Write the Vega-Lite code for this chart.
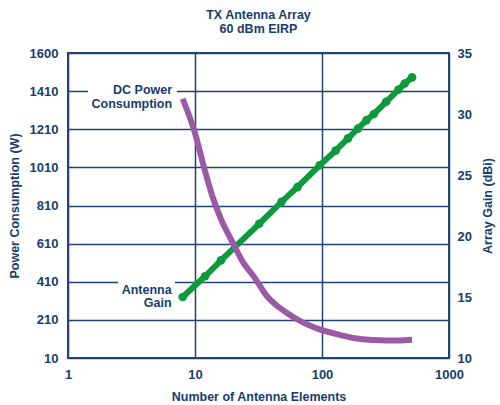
{
  "$schema": "https://vega.github.io/schema/vega-lite/v6.json",
  "width": 381,
  "height": 305,
  "autosize": {"type": "none"},
  "padding": {"left": 68, "top": 53, "right": 51, "bottom": 47},
  "background": "white",
  "title": {
    "text": ["TX Antenna Array", "60 dBm EIRP"],
    "font": "Liberation Sans",
    "fontSize": 12.5,
    "fontWeight": "bold",
    "color": "#173d6c",
    "lineHeight": 14,
    "offset": 12,
    "anchor": "middle"
  },
  "config": {
    "view": {"stroke": "#1f4472", "strokeWidth": 2},
    "font": "Liberation Sans",
    "axis": {
      "labelFont": "Liberation Sans",
      "labelFontSize": 13,
      "labelFontWeight": "bold",
      "labelColor": "#173d6c",
      "titleFont": "Liberation Sans",
      "titleFontSize": 12.5,
      "titleFontWeight": "bold",
      "titleColor": "#173d6c",
      "ticks": false,
      "domain": false,
      "gridColor": "#1f4472",
      "gridWidth": 1.5,
      "gridOpacity": 1
    }
  },
  "datasets": {
    "gain": [
      {"n": 8, "gain": 15.0},
      {"n": 12, "gain": 16.7},
      {"n": 16, "gain": 18.0},
      {"n": 32, "gain": 21.0},
      {"n": 48, "gain": 22.8},
      {"n": 64, "gain": 24.0},
      {"n": 96, "gain": 25.8},
      {"n": 128, "gain": 27.0},
      {"n": 160, "gain": 28.0},
      {"n": 192, "gain": 28.8},
      {"n": 224, "gain": 29.5},
      {"n": 256, "gain": 30.0},
      {"n": 320, "gain": 31.0},
      {"n": 400, "gain": 32.0},
      {"n": 448, "gain": 32.5},
      {"n": 512, "gain": 33.0}
    ],
    "power": [
      {"n": 8, "power": 1370},
      {"n": 10, "power": 1190},
      {"n": 12, "power": 990},
      {"n": 14, "power": 840},
      {"n": 16, "power": 740},
      {"n": 20, "power": 610},
      {"n": 24, "power": 510},
      {"n": 29, "power": 438},
      {"n": 32, "power": 395},
      {"n": 37, "power": 333},
      {"n": 45, "power": 280},
      {"n": 53, "power": 246},
      {"n": 64, "power": 212},
      {"n": 80, "power": 180},
      {"n": 97, "power": 159},
      {"n": 128, "power": 137},
      {"n": 176, "power": 115},
      {"n": 250, "power": 104},
      {"n": 323, "power": 102},
      {"n": 400, "power": 102},
      {"n": 512, "power": 106}
    ],
    "labels": [
      {"n": 6.6, "power": 1414, "label": "DC Power"},
      {"n": 6.6, "power": 1342, "label": "Consumption"},
      {"n": 6.55, "power": 367, "label": "Antenna"},
      {"n": 6.55, "power": 297, "label": "Gain"}
    ],
    "gaps": [
      {"n": 1.44, "n2": 7.2, "power": 1395, "power2": 1425},
      {"n": 2.48, "n2": 6.96, "power": 395, "power2": 425}
    ]
  },
  "encoding": {
    "x": {
      "field": "n",
      "type": "quantitative",
      "scale": {"type": "log", "domain": [1, 1000]},
      "axis": {
        "values": [1, 10, 100, 1000],
        "format": "d",
        "title": "Number of Antenna Elements",
        "labelFlush": false,
        "labelPadding": 10,
        "titlePadding": 9,
        "grid": true
      }
    }
  },
  "layer": [
    {
      "data": {"name": "gain"},
      "mark": {
        "type": "line",
        "color": "#0c9a3c",
        "strokeWidth": 6,
        "point": {"filled": true, "size": 75, "color": "#0c9a3c"}
      },
      "encoding": {
        "y": {
          "field": "gain",
          "type": "quantitative",
          "scale": {"domain": [10, 35], "nice": false},
          "axis": {
            "orient": "right",
            "values": [10, 15, 20, 25, 30, 35],
            "grid": false,
            "title": "Array Gain (dBi)",
            "titleAngle": 270,
            "titleBaseline": "top",
            "labelPadding": 8,
            "titlePadding": 10
          }
        }
      }
    },
    {
      "encoding": {
        "y": {
          "field": "power",
          "type": "quantitative",
          "scale": {"domain": [10, 1610], "nice": false},
          "axis": {
            "orient": "left",
            "values": [10, 210, 410, 610, 810, 1010, 1210, 1410, 1610],
            "format": "d",
            "labelExpr": "datum.value == 1610 ? '1600' : datum.label",
            "grid": true,
            "title": "Power Consumption (W)",
            "labelPadding": 10,
            "titlePadding": 8
          }
        }
      },
      "layer": [
        {
          "data": {"name": "gaps"},
          "mark": {"type": "rect", "color": "white", "opacity": 1},
          "encoding": {"x2": {"field": "n2"}, "y2": {"field": "power2"}}
        },
        {
          "data": {"name": "power"},
          "mark": {"type": "line", "color": "#9b5aa5", "strokeWidth": 6, "interpolate": "monotone"}
        },
        {
          "data": {"name": "labels"},
          "mark": {
            "type": "text",
            "align": "right",
            "baseline": "middle",
            "font": "Liberation Sans",
            "fontSize": 12.5,
            "fontWeight": "bold",
            "color": "#173d6c"
          },
          "encoding": {"text": {"field": "label"}}
        }
      ]
    }
  ],
  "resolve": {"scale": {"y": "independent"}}
}
